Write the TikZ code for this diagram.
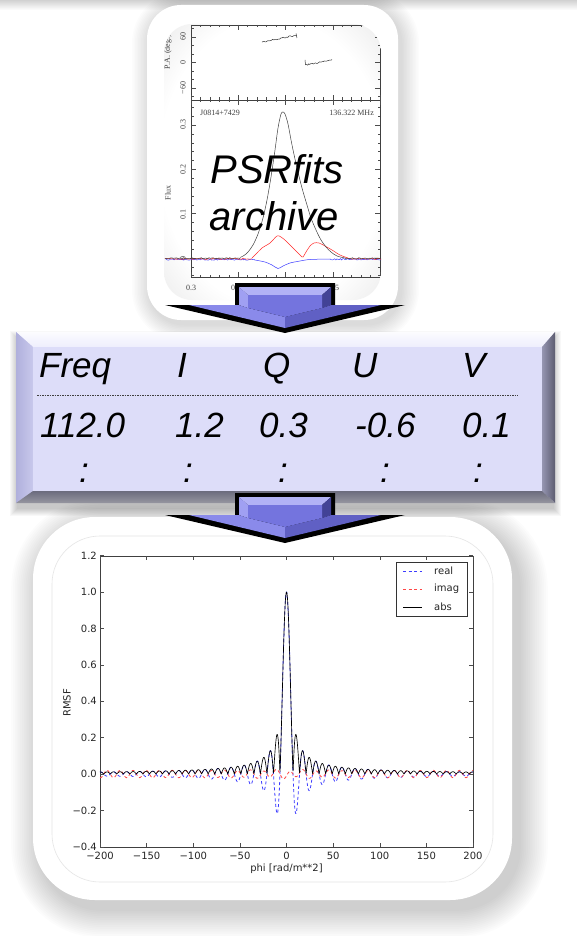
\documentclass[tikz,border=0pt]{standalone}
\usepackage{fontspec}
\setmainfont{Liberation Sans}
\newfontfamily\mplfont{DejaVu Sans}
\newfontfamily\pgpfont{Liberation Serif}

\definecolor{tface}{RGB}{221,221,249}
\definecolor{ttop}{RGB}{238,238,253}
\definecolor{tleft}{RGB}{200,200,236}
\definecolor{aface}{RGB}{116,116,222}
\definecolor{abevL}{RGB}{160,160,242}
\definecolor{abevT}{RGB}{178,178,246}
\definecolor{abevR}{RGB}{66,66,150}
\definecolor{abevB}{RGB}{96,96,196}
\definecolor{abevBL}{RGB}{138,138,234}
\definecolor{mplblue}{RGB}{60,60,255}
\definecolor{mplred}{RGB}{255,70,70}

\pgfdeclareradialshading{vignette}{\pgfpoint{0bp}{0bp}}{color(0bp)=(white); color(26bp)=(white); color(50bp)=(black!18); color(72bp)=(black!36)}

\tikzset{
 tabtext/.style={font=\fontsize{35}{40}\selectfont\itshape, anchor=base west, inner sep=0pt},
 colon/.style={font=\fontsize{35}{40}\selectfont\itshape, anchor=base, inner sep=0pt},
 psrtext/.style={font=\fontsize{40}{47}\selectfont\itshape, anchor=base, inner sep=0pt},
 pglab/.style={font=\pgpfont\fontsize{8}{9}\selectfont, inner sep=0pt, text=black!75},
 mpllab/.style={font=\mplfont\fontsize{10}{12}\selectfont, inner sep=0pt, text=black!85},
 axline/.style={draw=black!75, line width=0.6pt},
 tickln/.style={draw=black!70, line width=0.5pt},
 prof/.style={line width=0.5pt},
 dashcurve/.style={line width=0.8pt, dash pattern=on 3pt off 2.5pt},
 shadowlayer/.style={fill=black, fill opacity=#1},
 bevelarrow/.pic={
   \fill[black] (-50,0) -- (50,0) -- (50,22) -- (120,22) -- (0,50) -- (-120,22) -- (-50,22) -- cycle;
   \fill[abevT] (-46,4) -- (46,4) -- (37,12) -- (-37,12) -- cycle;
   \fill[abevL] (-46,4) -- (-37,12) -- (-37,25) -- (-46,22) -- cycle;
   \fill[abevR] (46,4) -- (37,12) -- (37,25) -- (46,22) -- cycle;
   \fill[abevBL] (-46,22) -- (-37,25) -- (0,34) -- (0,45) -- (-96,22) -- cycle;
   \fill[abevB] (46,22) -- (37,25) -- (0,34) -- (0,45) -- (96,22) -- cycle;
   \fill[aface] (-37,12) -- (37,12) -- (37,25) -- (0,34) -- (-37,25) -- cycle;
 }
}

\begin{document}
\begin{tikzpicture}[x=1pt,y=-1pt]
\useasboundingbox (0,0) rectangle (577,936);
\fill[white] (0,0) rectangle (577,936);
\shade[top color=black!18, bottom color=white] (0,0) rectangle (577,10);
\pgfmathsetseed{7}

% ---------------- bottom frame ----------------
\foreach \r in {1,...,16} {
  \pgfmathsetmacro\e{1.8*\r}
  \pgfmathsetmacro\rc{62+\e}
  \fill[shadowlayer=0.012, rounded corners=\rc pt] ({33-\e+7},{517-\e+9}) rectangle ({512+\e+7},{900+\e+9});
}
\path[fill=white, rounded corners=62pt] (33,517) rectangle (512,900);
\draw[black!10, line width=0.6pt, rounded corners=48pt] (52,536) rectangle (493,882);

% axes
\draw[axline] (100,556) rectangle (473,847);
\foreach \v in {-200,-150,...,200} {
  \draw[tickln] ({286.5+0.9325*\v},847) -- ++(0,-4);
  \draw[tickln] ({286.5+0.9325*\v},556) -- ++(0,4);
}
\foreach \k in {-2,...,6} {
  \draw[tickln] (100,{774-36.4*\k}) -- ++(4,0);
  \draw[tickln] (473,{774-36.4*\k}) -- ++(-4,0);
}
\foreach \k/\t [count=\n] in {-2/−0.4,-1/−0.2,0/0.0,1/0.2,2/0.4,3/0.6,4/0.8,5/1.0,6/1.2}
  \node[mpllab, anchor=east] (yl\n) at (97,{774-36.4*\k}) {\t};
\foreach \v/\t [count=\n] in {-200/−200,-150/−150,-100/−100,-50/−50,0/0,50/50,100/100,150/150,200/200}
  \node[mpllab] (xl\n) at ({286.5+0.9325*\v},855.5) {\t};
\node[mpllab] (xlabel) at (286.5,869) {phi [rad/m**2]};
\node[mpllab, rotate=90] (ylabel) at (67,703) {RMSF};

% curves
\begin{scope}[shift={(286.5,774)}, x=0.9325pt, y=182pt]
  \draw[mplblue, dashcurve] plot[domain=-200:200, samples=1600] (\x, {sin(\x*25.7142857)/(\x*0.4487990)});
  \draw[mplred, dashcurve] plot[domain=-200:200, samples=800] (\x, {0.02*sin(\x*25.7142857)-0.01*cos(\x*12.857)*exp(-abs(\x)/40)});
  \draw[black, line width=0.65pt] plot[domain=-200:200, samples=1600] (\x, {abs(sin(\x*25.7142857)/(\x*0.4487990))});
\end{scope}

% legend
\draw[black!80, fill=white, line width=0.5pt] (396,562) rectangle (467,616);
\coordinate (lb1) at (403,571); \coordinate (lb2) at (422,571);
\coordinate (lr1) at (403,589); \coordinate (lr2) at (422,589);
\coordinate (la1) at (403,607); \coordinate (la2) at (422,607);
\draw[mplblue, dashcurve] (lb1) -- (lb2);
\draw[mplred, dashcurve] (lr1) -- (lr2);
\draw[black, line width=0.65pt] (la1) -- (la2);
\node[mpllab, anchor=west] (lreal) at (434,571) {real};
\node[mpllab, anchor=west] (limag) at (434,589) {imag};
\node[mpllab, anchor=west] (labs) at (434,607) {abs};

% ---------------- top frame ----------------
\foreach \r in {1,...,12} {
  \pgfmathsetmacro\e{1.5*\r}
  \pgfmathsetmacro\rc{34+\e}
  \fill[shadowlayer=0.013, rounded corners=\rc pt] ({147-\e+3},{5-\e+4}) rectangle ({398+\e+3},{320+\e+4});
}
\path[fill=white, rounded corners=34pt] (147,5) rectangle (398,320);
\begin{scope}
  \clip[rounded corners=28pt] (164,24) rectangle (381,300);
  \shade[shading=vignette] (164,24) rectangle (381,300);
  % frame
  \draw[axline] (191,25) rectangle (380,277);
  \draw[axline] (191,100) -- (380,100);
  % x ticks
  \foreach \i in {0,...,20} {
    \pgfmathsetmacro\xx{191+9.45*\i}
    \draw[tickln] (\xx,25) -- ++(0,2.5);
    \draw[tickln] (\xx,100) -- ++(0,-2.5);
    \draw[tickln] (\xx,100) -- ++(0,2.5);
    \draw[tickln] (\xx,277) -- ++(0,-2.5);
  }
  \foreach \i in {0,5,...,20} {
    \pgfmathsetmacro\xx{191+9.45*\i}
    \draw[tickln] (\xx,25) -- ++(0,5);
    \draw[tickln] (\xx,100) -- ++(0,-5);
    \draw[tickln] (\xx,100) -- ++(0,5);
    \draw[tickln] (\xx,277) -- ++(0,-5);
  }
  % PA y ticks
  \foreach \d in {-80,-60,...,80} {
    \draw[tickln] (191,{62.5-0.425*\d}) -- ++(2.5,0);
    \draw[tickln] (380,{62.5-0.425*\d}) -- ++(-2.5,0);
  }
  \foreach \d in {-60,0,60} {
    \draw[tickln] (191,{62.5-0.425*\d}) -- ++(5,0);
    \draw[tickln] (380,{62.5-0.425*\d}) -- ++(-5,0);
  }
  % Flux y ticks
  \foreach \k in {-2,...,17} {
    \draw[tickln] (191,{258-8.86*\k}) -- ++(2.5,0);
    \draw[tickln] (380,{258-8.86*\k}) -- ++(-2.5,0);
  }
  \foreach \k in {0,5,10,15} {
    \draw[tickln] (191,{258-8.86*\k}) -- ++(5,0);
    \draw[tickln] (380,{258-8.86*\k}) -- ++(-5,0);
  }
  % labels
  \node[pglab, rotate=90] (pa60) at (183,37) {60};
  \node[pglab, rotate=90] (pa0) at (183,63) {0};
  \node[pglab, rotate=90] (pam60) at (183,88) {−60};
  \node[pglab, rotate=90] (fl3) at (183,125) {0.3};
  \node[pglab, rotate=90] (fl2) at (183,170) {0.2};
  \node[pglab, rotate=90] (fl1) at (183,214) {0.1};
  \node[pglab, rotate=90] (fl0) at (183,258) {0};
  \node[pglab, rotate=90] (palab) at (168,52) {P.A. (deg.)};
  \node[pglab, rotate=90] (fluxlab) at (168,193) {Flux};
  \node[pglab, anchor=west] (psrname) at (200,113) {J0814+7429};
  \node[pglab, anchor=east] (freqlab) at (374,113) {136.322 MHz};
  \node[pglab] (ph1) at (191,288) {0.3};
  \node[pglab] (ph2) at (238,288) {0.35};
  \node[pglab] (ph3) at (285,288) {0.4};
  \node[pglab] (ph4) at (332,288) {0.45};
  % PA points
  \draw[black!80, prof] plot[domain=262:296, samples=30] (\x, {42-(\x-262)*0.2+0.7*rand});
  \draw[black!80, prof] (296,33.5) -- (297,38);
  \draw[black!80, prof] (305,60) -- (305.5,65);
  \draw[black!80, prof] plot[domain=305.5:332, samples=25] (\x, {65-(\x-305.5)*0.19+0.6*rand});
  % profiles: blue
  \draw[mplblue, prof] plot[domain=165:255, samples=80] (\x, {259.5+0.7*rand});
  \draw[mplblue, prof] plot[smooth, tension=0.5] coordinates {(255,260) (265,262) (272,265) (278,268.5) (283,266) (290,263) (300,261) (310,259.5) (330,259)};
  \draw[mplblue, prof] plot[domain=330:381, samples=45] (\x, {259.3+0.7*rand});
  % red
  \draw[red!85, prof] plot[domain=165:252, samples=80] (\x, {258.8+0.7*rand});
  \draw[red!85, prof] plot[smooth, tension=0.5] coordinates {(252,258) (256,254) (262,248) (270,243) (277,236) (281,237) (286,241) (292,247) (297,252) (301,256) (303,257) (306,252) (310,246) (314,243) (319,243) (325,246) (332,250) (340,255) (348,258)};
  \draw[red!85, prof] plot[domain=348:381, samples=30] (\x, {258.8+0.7*rand});
  % black
  \draw[black!75, prof] plot[domain=165:240, samples=65] (\x, {258.3+0.6*rand});
  \draw[black!75, prof] plot[smooth, tension=0.5] coordinates {(240,257.5) (244,255.5) (248,252) (253,245) (258,234) (263,218) (267,200) (271,177) (275,150) (278,128) (281,114) (283,112) (285,114) (288,124) (292,145) (297,168) (302,188) (307,205) (311,218) (316,230) (321,240) (326,247) (331,252) (337,256) (345,258)};
  \draw[black!75, prof] plot[domain=345:381, samples=30] (\x, {258.3+0.6*rand});
\end{scope}
\node[psrtext] (psr1) at (277,183) {PSRfits};
\node[psrtext] (psr2) at (274,230) {archive};

% ---------------- table box ----------------
\foreach \r in {1,...,8} {
  \fill[shadowlayer=0.028] ({16-\r+2},{332-\r+7}) rectangle ({555+\r-2},{503+\r+5});
}
\fill[tface] (16,332) rectangle (555,503);
\shade[top color=white!90!tface, bottom color=ttop] (16,332) -- (555,332) -- (542,347) -- (33,347) -- cycle;
\shade[left color={rgb,255:red,176;green,176;blue,220}, right color=tleft] (16,332) -- (33,347) -- (33,491) -- (16,503) -- cycle;
\shade[left color={rgb,255:red,150;green,150;blue,178}, right color={rgb,255:red,92;green,92;blue,112}] (555,332) -- (542,347) -- (542,491) -- (555,503) -- cycle;
\shade[top color={rgb,255:red,108;green,108;blue,126}, bottom color={rgb,255:red,150;green,150;blue,160}] (16,503) -- (33,491) -- (542,491) -- (555,503) -- cycle;
\fill[tface] (33,347) rectangle (542,491);

\node[tabtext] (hFreq) at (39,377) {Freq};
\node[tabtext] (hI) at (177,377) {I};
\node[tabtext] (hQ) at (263,377) {Q};
\node[tabtext] (hU) at (352,377) {U};
\node[tabtext] (hV) at (462,377) {V};
\coordinate (dl) at (37,395);
\coordinate (dr) at (518,395);
\draw[black!75, line width=0.5pt, dash pattern=on 1.5pt off 1pt] (dl) -- (dr);
\node[tabtext] (vF) at (40,437) {112.0};
\node[tabtext] (vI) at (175,437) {1.2};
\node[tabtext] (vQ) at (259,437) {0.3};
\node[tabtext] (vU) at (355,437) {-0.6};
\node[tabtext] (vV) at (462,437) {0.1};
\node[colon] (cF) at (84,482) {:};
\node[colon] (cI) at (188,482) {:};
\node[colon] (cQ) at (283,482) {:};
\node[colon] (cU) at (385,482) {:};
\node[colon] (cV) at (478,482) {:};

% ---------------- arrows ----------------
\pic (arrowA) at (285,283) {bevelarrow};
\pic (arrowB) at (285,493) {bevelarrow};
\end{tikzpicture}
\end{document}
